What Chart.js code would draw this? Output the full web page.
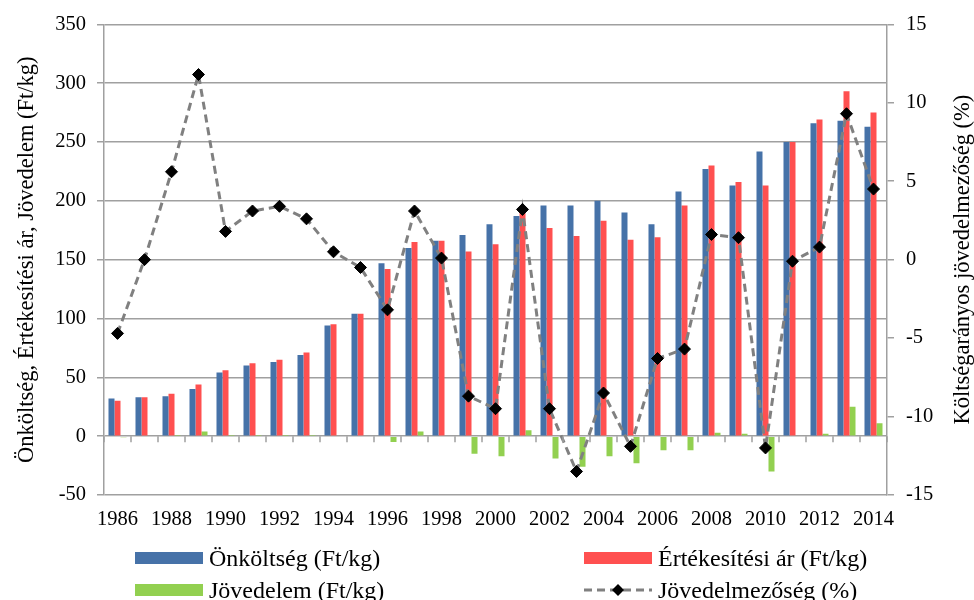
<!DOCTYPE html>
<html lang="hu">
<head>
<meta charset="utf-8">
<title>Önköltség, értékesítési ár, jövedelem</title>
<script src="https://cdn.jsdelivr.net/npm/chart.js@4.4.1/dist/chart.umd.min.js"></script>
<style>
    body { margin: 0; background: #fff; }
    #wrap { position: relative; width: 974px; height: 600px; }
    #legend { position: absolute; left: 0; top: 0; width: 974px; height: 600px; pointer-events: none;
              font-family: 'Liberation Serif', 'Times New Roman', serif; font-size: 24px; color: #000; }
    .legend-item { position: absolute; display: flex; align-items: center; height: 26px; }
    .legend-box { width: 68px; height: 12px; margin-right: 6px; }
    .legend-item span { white-space: nowrap; line-height: 26px; }
</style>
</head>
<body>
<div id="wrap">
    <canvas id="chart" width="974" height="600"></canvas>
    <div id="legend"></div>
</div>
<script>
// Data
const years = [1986, 1987, 1988, 1989, 1990, 1991, 1992, 1993, 1994, 1995,
               1996, 1997, 1998, 1999, 2000, 2001, 2002, 2003, 2004, 2005,
               2006, 2007, 2008, 2009, 2010, 2011, 2012, 2013, 2014];
const onkoltseg = [32, 33, 34, 40, 54, 60, 63, 69, 94, 104,
                   147, 160, 166, 171, 180, 187, 196, 196, 200, 190,
                   180, 208, 227, 213, 242, 250, 266, 268, 263];
const ertekesitesiAr = [30, 33, 36, 44, 56, 62, 65, 71, 95, 104,
                        142, 165, 166, 157, 163, 192, 177, 170, 183, 167,
                        169, 196, 230, 216, 213, 250, 269, 293, 275];
const jovedelem = [-1, 0, 1, 4, 1, 1, 1, 1, 0, 0,
                   -5, 4, 0, -15, -17, 5, -19, -26, -17, -23,
                   -12, -12, 3, 2, -30, 0, 2, 25, 11];
const jovedelmezoseg = [-4.7, 0.0, 5.6, 11.8, 1.8, 3.1, 3.4, 2.6, 0.5, -0.5,
                        -3.2, 3.1, 0.1, -8.7, -9.5, 3.2, -9.5, -13.5, -8.5, -11.9,
                        -6.3, -5.7, 1.6, 1.4, -12.0, -0.1, 0.8, 9.3, 4.5];

const leftTicks = { min: -50, max: 350, step: 50 };
const rightTicks = { min: -15, max: 15, step: 5 };

const leftTitle = 'Önköltség, Értékesítési ár, Jövedelem (Ft/kg)';
const rightTitle = 'Költségarányos jövedelmezőség (%)';

const gridColor = '#a0a0a0';
const fontFamily = "'Liberation Serif', 'Times New Roman', serif";
const titleSize = 22.5;

Chart.defaults.font.family = fontFamily;
Chart.defaults.font.size = 20.5;
Chart.defaults.color = '#000';

// Small tick marks on the zero line between categories
const zeroTicksPlugin = {
    id: 'zeroTicks',
    afterDatasetsDraw(chart) {
        const x = chart.scales.x;
        const y0 = chart.scales.y.getPixelForValue(0);
        const ctx = chart.ctx;
        const half = (x.getPixelForTick(1) - x.getPixelForTick(0)) / 2;
        ctx.save();
        ctx.strokeStyle = gridColor;
        ctx.lineWidth = 1.5;
        ctx.beginPath();
        for (let i = 0; i <= years.length; i++) {
            const px = x.getPixelForTick(0) - half + i * half * 2;
            ctx.moveTo(px, y0);
            ctx.lineTo(px, y0 + 6);
        }
        ctx.stroke();
        ctx.restore();
    }
};

// Right axis title reads bottom to top, like the left one
const rightTitlePlugin = {
    id: 'rightTitle',
    afterDraw(chart) {
        const ctx = chart.ctx;
        const area = chart.chartArea;
        ctx.save();
        ctx.translate(963, (area.top + area.bottom) / 2);
        ctx.rotate(-Math.PI / 2);
        ctx.font = titleSize + 'px ' + fontFamily;
        ctx.fillStyle = '#000';
        ctx.textAlign = 'center';
        ctx.textBaseline = 'middle';
        ctx.fillText(rightTitle, 0, 0);
        ctx.restore();
    }
};

const ctx = document.getElementById('chart').getContext('2d');
const chart = new Chart(ctx, {
    data: {
        labels: years,
        datasets: [
            {
                type: 'line',
                label: 'Jövedelmezőség (%)',
                data: jovedelmezoseg,
                yAxisID: 'y1',
                order: 0,
                borderColor: '#808080',
                borderWidth: 3,
                borderDash: [8, 5],
                pointStyle: 'rectRot',
                pointRadius: 6,
                pointBackgroundColor: '#000',
                pointBorderColor: '#000',
                pointBorderWidth: 1,
                tension: 0
            },
            {
                type: 'bar',
                label: 'Önköltség (Ft/kg)',
                data: onkoltseg,
                yAxisID: 'y',
                order: 1,
                backgroundColor: '#4672a8'
            },
            {
                type: 'bar',
                label: 'Értékesítési ár (Ft/kg)',
                data: ertekesitesiAr,
                yAxisID: 'y',
                order: 1,
                backgroundColor: '#ff5050'
            },
            {
                type: 'bar',
                label: 'Jövedelem (Ft/kg)',
                data: jovedelem,
                yAxisID: 'y',
                order: 1,
                backgroundColor: '#92d050'
            }
        ]
    },
    options: {
        responsive: false,
        animation: false,
        datasets: {
            bar: {
                categoryPercentage: 0.667,
                barPercentage: 1
            }
        },
        layout: {
            padding: { top: 23, bottom: 65, left: 0, right: 0 }
        },
        plugins: {
            legend: { display: false },
            tooltip: { enabled: false }
        },
        scales: {
            x: {
                offset: true,
                grid: { display: false, drawTicks: false },
                border: { display: false },
                ticks: {
                    autoSkip: false,
                    maxRotation: 0,
                    padding: 12,
                    callback: function(value, index) {
                        return index % 2 === 0 ? this.getLabelForValue(value) : '';
                    }
                },
                afterFit: scale => { scale.height = 40; }
            },
            y: {
                position: 'left',
                min: leftTicks.min,
                max: leftTicks.max,
                ticks: { stepSize: leftTicks.step, padding: 11 },
                grid: { color: gridColor, lineWidth: 1.5, tickLength: 7 },
                border: { color: gridColor, width: 1.5 },
                title: {
                    display: true,
                    text: leftTitle,
                    font: { size: titleSize },
                    padding: { top: 14, bottom: 0 }
                },
                afterFit: scale => { scale.width = 104; }
            },
            y1: {
                position: 'right',
                min: rightTicks.min,
                max: rightTicks.max,
                ticks: { stepSize: rightTicks.step, padding: 12 },
                grid: { drawOnChartArea: false, color: gridColor, lineWidth: 1.5, tickLength: 7 },
                border: { color: gridColor, width: 1.5 },
                afterFit: scale => { scale.width = 87; }
            }
        }
    },
    plugins: [zeroTicksPlugin, rightTitlePlugin]
});

// HTML legend in two columns, built from the chart's datasets
function buildLegend() {
    const legend = document.getElementById('legend');
    const slots = [
        { label: 'Önköltség (Ft/kg)', left: 135, top: 545 },
        { label: 'Értékesítési ár (Ft/kg)', left: 584, top: 545 },
        { label: 'Jövedelem (Ft/kg)', left: 135, top: 577 },
        { label: 'Jövedelmezőség (%)', left: 584, top: 577 }
    ];

    slots.forEach(slot => {
        const ds = chart.data.datasets.find(d => d.label === slot.label);
        const item = document.createElement('div');
        item.className = 'legend-item';
        item.style.left = slot.left + 'px';
        item.style.top = slot.top + 'px';

        if (ds.type === 'line') {
            item.innerHTML = `
                <svg width="68" height="14" style="margin-right:6px">
                    <line x1="0" y1="7" x2="68" y2="7" stroke="${ds.borderColor}" stroke-width="3" stroke-dasharray="8 5"/>
                    <polygon points="34,1 40,7 34,13 28,7" fill="${ds.pointBackgroundColor}"/>
                </svg>
                <span>${ds.label}</span>`;
        } else {
            item.innerHTML = `<div class="legend-box" style="background:${ds.backgroundColor}"></div><span>${ds.label}</span>`;
        }
        legend.appendChild(item);
    });
}

buildLegend();
</script>
</body>
</html>
